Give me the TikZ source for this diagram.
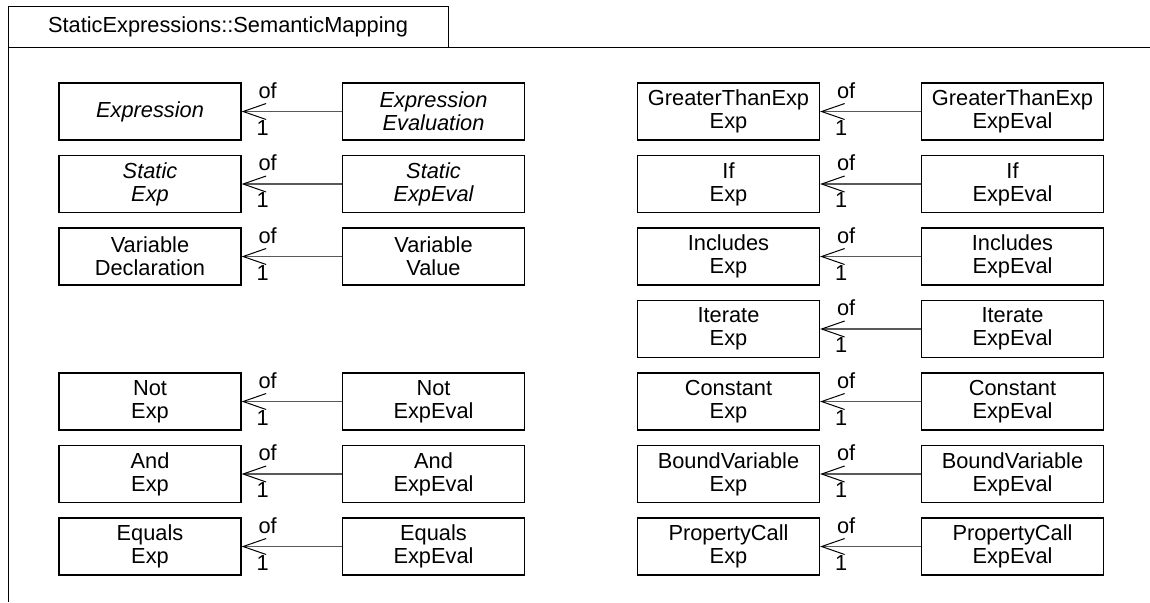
\documentclass[tikz,border=0pt]{standalone}
\usepackage{fontspec}
\setmainfont{Liberation Sans}
\usetikzlibrary{arrows.meta,positioning,calc}

\tikzset{
  cls/.style={draw, line width=0.6pt, minimum width=91pt, minimum height=28.5pt,
    inner sep=0pt, align=center, font=\fontsize{10.9}{11.6}\selectfont},
  abscls/.style={cls, font=\fontsize{10.9}{11.6}\selectfont\itshape},
  assoc/.style={draw=black!65, line width=0.7pt,
    -{Straight Barb[length=11.5pt,width=8pt,color=black,line width=0.5pt]}},
  oflabel/.style={pos=1, inner sep=0pt, xshift=13pt, yshift=10.5pt, text=black,
    font=\fontsize{10.9}{11.6}\selectfont},
  onelabel/.style={pos=1, inner sep=0pt, xshift=10.5pt, yshift=-8pt, text=black,
    font=\fontsize{10.9}{11.6}\selectfont}
}

\begin{document}
\begin{tikzpicture}[x=0.5pt,y=-0.5pt]
  \useasboundingbox (0,0) rectangle (1150,602);

  % package frame with its tab
  \draw[line width=0.5pt] (8,602) -- (8,6) -- (448,6) -- (448,47);
  \draw[line width=0.5pt] (8,47) -- (1150,47);
  \node[font=\fontsize{10.9}{11.6}\selectfont] (pkg) at (228,27) {StaticExpressions::SemanticMapping};

  % left column
  \node[abscls] (expr) at (150,111.5) {Expression};
  \node[abscls] (exprEval) at (433.5,111.5) {Expression\\Evaluation};
  \node[abscls] (staticExp) at (150,184) {Static\\Exp};
  \node[abscls] (staticEval) at (433.5,184) {Static\\ExpEval};
  \node[cls] (varDecl) at (150,256.5) {Variable\\Declaration};
  \node[cls] (varVal) at (433.5,256.5) {Variable\\Value};
  \node[cls] (notExp) at (150,401.5) {Not\\Exp};
  \node[cls] (notEval) at (433.5,401.5) {Not\\ExpEval};
  \node[cls] (andExp) at (150,474) {And\\Exp};
  \node[cls] (andEval) at (433.5,474) {And\\ExpEval};
  \node[cls] (eqExp) at (150,546.5) {Equals\\Exp};
  \node[cls] (eqEval) at (433.5,546.5) {Equals\\ExpEval};

  % right column
  \node[cls] (gtExp) at (728.5,111.5) {GreaterThanExp\\Exp};
  \node[cls] (gtEval) at (1012.5,111.5) {GreaterThanExp\\ExpEval};
  \node[cls] (ifExp) at (728.5,184) {If\\Exp};
  \node[cls] (ifEval) at (1012.5,184) {If\\ExpEval};
  \node[cls] (inclExp) at (728.5,256.5) {Includes\\Exp};
  \node[cls] (inclEval) at (1012.5,256.5) {Includes\\ExpEval};
  \node[cls] (iterExp) at (728.5,329) {Iterate\\Exp};
  \node[cls] (iterEval) at (1012.5,329) {Iterate\\ExpEval};
  \node[cls] (constExp) at (728.5,401.5) {Constant\\Exp};
  \node[cls] (constEval) at (1012.5,401.5) {Constant\\ExpEval};
  \node[cls] (bvExp) at (728.5,474) {BoundVariable\\Exp};
  \node[cls] (bvEval) at (1012.5,474) {BoundVariable\\ExpEval};
  \node[cls] (pcExp) at (728.5,546.5) {PropertyCall\\Exp};
  \node[cls] (pcEval) at (1012.5,546.5) {PropertyCall\\ExpEval};

  % "of" associations
  \draw[assoc] (exprEval) -- (expr) node[oflabel] (of1) {of} node[onelabel] (one1) {1};
  \draw[assoc] (staticEval) -- (staticExp) node[oflabel] (of2) {of} node[onelabel] (one2) {1};
  \draw[assoc] (varVal) -- (varDecl) node[oflabel] (of3) {of} node[onelabel] (one3) {1};
  \draw[assoc] (notEval) -- (notExp) node[oflabel] (of4) {of} node[onelabel] (one4) {1};
  \draw[assoc] (andEval) -- (andExp) node[oflabel] (of5) {of} node[onelabel] (one5) {1};
  \draw[assoc] (eqEval) -- (eqExp) node[oflabel] (of6) {of} node[onelabel] (one6) {1};
  \draw[assoc] (gtEval) -- (gtExp) node[oflabel] (of7) {of} node[onelabel] (one7) {1};
  \draw[assoc] (ifEval) -- (ifExp) node[oflabel] (of8) {of} node[onelabel] (one8) {1};
  \draw[assoc] (inclEval) -- (inclExp) node[oflabel] (of9) {of} node[onelabel] (one9) {1};
  \draw[assoc] (iterEval) -- (iterExp) node[oflabel] (of10) {of} node[onelabel] (one10) {1};
  \draw[assoc] (constEval) -- (constExp) node[oflabel] (of11) {of} node[onelabel] (one11) {1};
  \draw[assoc] (bvEval) -- (bvExp) node[oflabel] (of12) {of} node[onelabel] (one12) {1};
  \draw[assoc] (pcEval) -- (pcExp) node[oflabel] (of13) {of} node[onelabel] (one13) {1};
\end{tikzpicture}
\end{document}
